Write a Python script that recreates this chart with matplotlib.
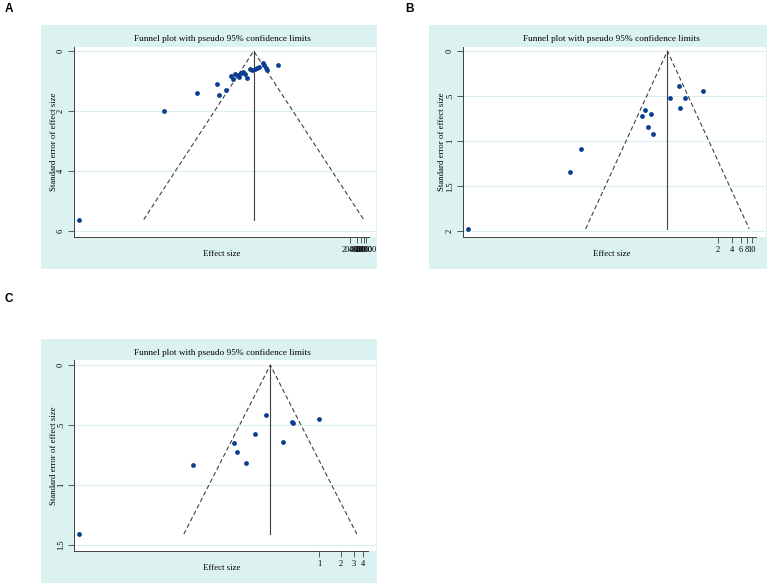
import matplotlib
matplotlib.use("Agg")
import matplotlib.pyplot as plt
import matplotlib.patches as mpatches
import numpy as np

plt.rcParams['font.family'] = ['Liberation Serif', 'DejaVu Serif']

W, H = 768, 586

# panel A: log effect size, standard error
a_lnes = [-19.46, -10.96, -7.66, -5.70, -5.46, -4.76, -4.33, -4.06, -3.86, -3.60,
          -3.46, -3.26, -3.06, -2.93, -2.66, -2.40, -2.20, -1.93, -1.66, -1.53,
          -1.13, -0.96, -0.76, -0.66, 0.40]
a_se = [5.61, 1.98, 1.41, 1.09, 1.47, 1.31, 0.82, 0.94, 0.78, 0.81,
        0.86, 0.74, 0.70, 0.78, 0.89, 0.61, 0.63, 0.60, 0.55, 0.54,
        0.39, 0.48, 0.57, 0.63, 0.46]
a_pooled = -2.03
a_xticks = [2000, 4000, 6000, 8000, 10000]
a_yticks = [0, 2, 4, 6]
a_ylabels = ['0', '2', '4', '6']

# panel B
b_lnes = [-11.10, -6.27, -5.75, -2.91, -2.76, -2.44, -2.58, -2.39, -1.58,
          -1.15, -1.09, -0.87, 0.02]
b_se = [1.974, 1.342, 1.087, 0.717, 0.651, 0.695, 0.847, 0.924, 0.518,
        0.384, 0.632, 0.525, 0.447]
b_pooled = -1.685
b_xticks = [2, 4, 6, 8, 10]
b_yticks = [0, 0.5, 1, 1.5, 2]
b_ylabels = ['0', '.5', '1', '1.5', '2']

# panel C
c_lnes = [-7.67, -4.02, -2.71, -2.64, -2.34, -2.06, -1.70, -1.16, -0.88, -0.84, -0.01]
c_se = [1.408, 0.831, 0.650, 0.728, 0.814, 0.575, 0.419, 0.644, 0.472, 0.486, 0.447]
c_pooled = -1.564
c_xticks = [1, 2, 3, 4]
c_yticks = [0, 0.5, 1, 1.5]
c_ylabels = ['0', '.5', '1', '1.5']

bg = '#dbf2f0'
dot = '#0b3d91'
lc = '#404040'


def panel(fig, letter, letter_xy, box, plot, xlim, ylim, xend,
          lnes, se, pooled, xticks, yticks, ylabels):
    x0, y0, x1, y1 = box
    fig.patches.append(mpatches.Rectangle((x0 / W, 1 - y1 / H), (x1 - x0) / W, (y1 - y0) / H,
                                          transform=fig.transFigure, facecolor=bg,
                                          edgecolor='none', zorder=-10))
    fig.text(letter_xy[0] / W, 1 - letter_xy[1] / H, letter, family='Liberation Sans',
             fontweight='bold', fontsize=8.5, ha='center', va='center')
    px0, py0, px1, py1 = plot
    ax = fig.add_axes([px0 / W, 1 - py1 / H, (px1 - px0) / W, (py1 - py0) / H])
    ax.set_facecolor('white')
    ax.set_xlim(*xlim)
    ax.set_ylim(*ylim)
    for y in yticks:
        ax.axhline(y, color='#dcefee', lw=0.8, zorder=1)
    semax = max(se)
    ax.plot([pooled - 1.96 * semax, pooled, pooled + 1.96 * semax], [semax, 0, semax],
            ls=(0, (4, 2.5)), color=lc, lw=0.8, zorder=2)
    ax.plot([pooled, pooled], [0, semax], color=lc, lw=0.8, zorder=2)
    ax.scatter(lnes, se, s=12, color=dot, zorder=3, linewidths=0)
    ax.set_yticks(yticks)
    ax.set_yticklabels(ylabels, rotation=90, va='center')
    ax.set_xticks(np.log(xticks))
    ax.set_xticklabels([str(t) for t in xticks])
    ax.tick_params(labelsize=6, length=4.5, width=0.6, pad=2, color=lc)
    for s in ['top', 'right']:
        ax.spines[s].set_visible(False)
    ax.spines['left'].set_bounds(ylim[0], ylim[1])
    ax.spines['bottom'].set_bounds(xlim[0], xend)
    for s in ['left', 'bottom']:
        ax.spines[s].set_linewidth(0.7)
        ax.spines[s].set_color(lc)
    cx = (px0 + px1) / 2 - 3
    fig.text(cx / W, 1 - (y0 + 14) / H, 'Funnel plot with pseudo 95% confidence limits',
             fontsize=6.7, ha='center', va='center')
    fig.text(cx / W, 1 - (py1 + 17) / H, 'Effect size', fontsize=6.3, ha='center', va='center')
    fig.text((px0 - 20.5) / W, 1 - (py0 + py1) / 2 / H, 'Standard error of effect size',
             fontsize=6.3, ha='center', va='center', rotation=90)
    return ax


fig = plt.figure(figsize=(W / 100, H / 100), dpi=100)

panel(fig, 'A', (9, 9.5), (41, 25, 377, 269), (74, 46.7, 376, 237),
      (-20.0, 10.2), (6.19, -0.144), 9.54,
      a_lnes, a_se, a_pooled, a_xticks, a_yticks, a_ylabels)
panel(fig, 'B', (410, 9.5), (429, 25, 767, 269), (463, 46.7, 766, 237.3),
      (-11.35, 2.976), (2.067, -0.048), 2.49,
      b_lnes, b_se, b_pooled, b_xticks, b_yticks, b_ylabels)
panel(fig, 'C', (8.5, 298.5), (41, 339.3, 377, 583.3), (74, 360, 376, 550.7),
      (-7.83, 1.81), (1.547, -0.042), 1.56,
      c_lnes, c_se, c_pooled, c_xticks, c_yticks, c_ylabels)

fig.savefig('out.png', dpi=100)
